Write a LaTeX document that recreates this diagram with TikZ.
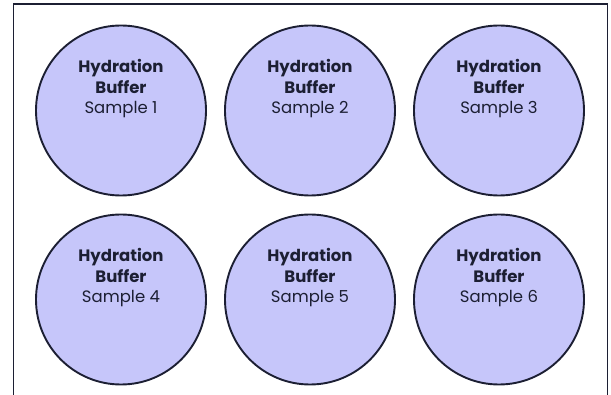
\documentclass[tikz,border=0pt]{standalone}
\usepackage{fontspec}
\setmainfont{Poppins}
\definecolor{wellfill}{HTML}{C6C6FA}
\definecolor{ink}{HTML}{1C1F33}
\begin{document}
\begin{tikzpicture}[x=1pt,y=-1pt,
  well/.style={circle,draw=ink,line width=1.9pt,fill=wellfill,minimum size=170pt,inner sep=0pt},
  lbl/.style={anchor=north,align=center,text=ink,font=\fontsize{16.5}{20.5}\selectfont,inner sep=0pt}]
\useasboundingbox (0,0) rectangle (611,395);
\draw[ink,line width=1.9pt] (13.5,410) -- (13.5,4) -- (607.5,4) -- (607.5,410);
\foreach \i/\x/\y in {1/121/110.5,2/310/110.5,3/499/110.5,4/121/299.5,5/310/299.5,6/499/299.5}{
  \node[well] (w\i) at (\x,\y) {};
  \node[lbl] (t\i) at ([yshift=51pt]w\i.center) {\textbf{Hydration}\\\textbf{Buffer}\\Sample \i};
}
\end{tikzpicture}
\end{document}
